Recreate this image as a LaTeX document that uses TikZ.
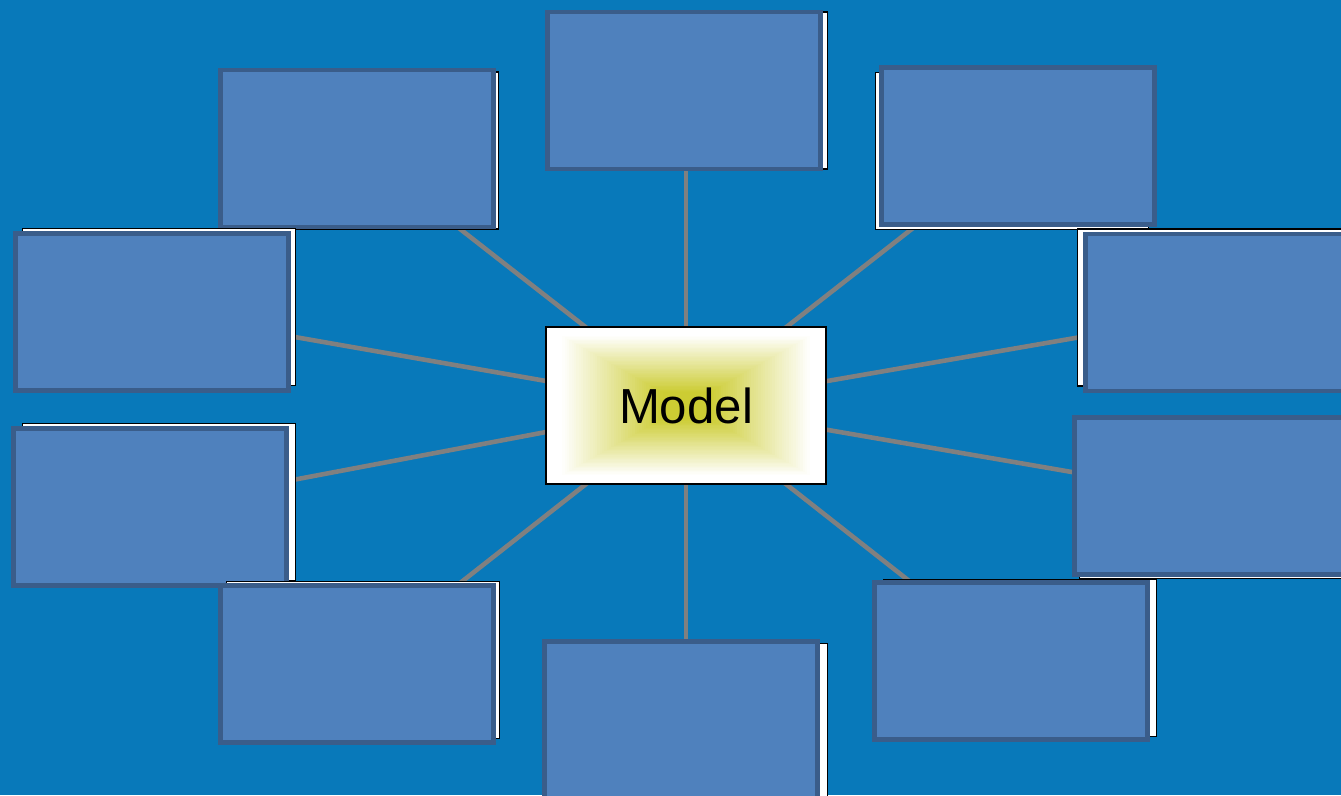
\documentclass[tikz,border=0pt]{standalone}
\usepackage{fontspec}
\setmainfont{Liberation Sans}
\usetikzlibrary{calc,shadows,backgrounds}

\definecolor{pagebg}{RGB}{8,121,186}
\definecolor{panelfill}{RGB}{79,129,189}
\definecolor{paneledge}{RGB}{58,93,138}
\definecolor{spokegray}{RGB}{128,128,128}
\definecolor{modelyellow}{RGB}{204,204,51}

\begin{document}
\begin{tikzpicture}[%
    x=0.02cm, y=-0.02cm,
    panel/.style 2 args={
      draw=paneledge, fill=panelfill, line width=2.8pt, inner sep=0pt,
      minimum width=5.46cm, minimum height=3.14cm,
      drop shadow={shadow xshift=#1, shadow yshift=#2,
        fill=white, draw=black, line width=0.8pt, opacity=1}},
    modelbox/.style={
      draw=black, line width=1.1pt, inner sep=0pt,
      minimum width=5.6cm, minimum height=3.14cm,
      font=\fontsize{28}{34}\selectfont,
      path picture={
        % rectangular fade, yellow in the middle, white at the rim
        \foreach \i in {0,...,59} {
          \pgfmathsetmacro\s{1-\i/60}
          \pgfmathtruncatemacro\p{min(100,max(0,(0.9-\s)/0.72*100))}
          \fill[modelyellow!\p!white]
            ($(path picture bounding box.center)+(-2.8*\s cm,-1.57*\s cm)$)
            rectangle
            ($(path picture bounding box.center)+(2.8*\s cm,1.57*\s cm)$);
        }}},
    spoke/.style={draw=spokegray, line width=2.6pt},
  ]
    \useasboundingbox (0,0) rectangle (1341,795);

    % outer ring of panels
    \node[panel={0.14cm}{0cm}]      (n)  at (684,90.5)  {};
    \node[panel={0.1cm}{-0.04cm}]   (nw) at (357,148.5) {};
    \node[panel={-0.12cm}{-0.1cm}]  (ne) at (1018,146)  {};
    \node[panel={0.14cm}{0.1cm}]    (w1) at (152,312)   {};
    \node[panel={-0.16cm}{0.1cm}]   (e1) at (1222,312.5) {};
    \node[panel={0.18cm}{0.1cm}]    (w2) at (150,507)   {};
    \node[panel={0.1cm}{-0.08cm}]   (e2) at (1211,496)  {};
    \node[panel={0.12cm}{0.08cm}]   (sw) at (357,664)   {};
    \node[panel={0.2cm}{-0.04cm}]   (s)  at (681,720)   {};
    \node[panel={0.18cm}{0.06cm}]   (se) at (1011,661)  {};

    \node[modelbox] (model) at (686,405.5) {Model};

    \begin{scope}[on background layer]
      \fill[pagebg] (0,0) rectangle (1341,795);
      \path[spoke]
      (model.center) edge (model.center |- n.center)
      (model.center) edge (nw.center)
      (model.center) edge (ne.center)
      (model.center) edge (w1.center)
      (model.center) edge (e1.center)
      (model.center) edge (w2.center)
      (model.center) edge (e2.center)
      (model.center) edge (sw.center)
      (model.center) edge (model.center |- s.center)
      (model.center) edge (se.center)
      ;
    \end{scope}
  \end{tikzpicture}
\end{document}
